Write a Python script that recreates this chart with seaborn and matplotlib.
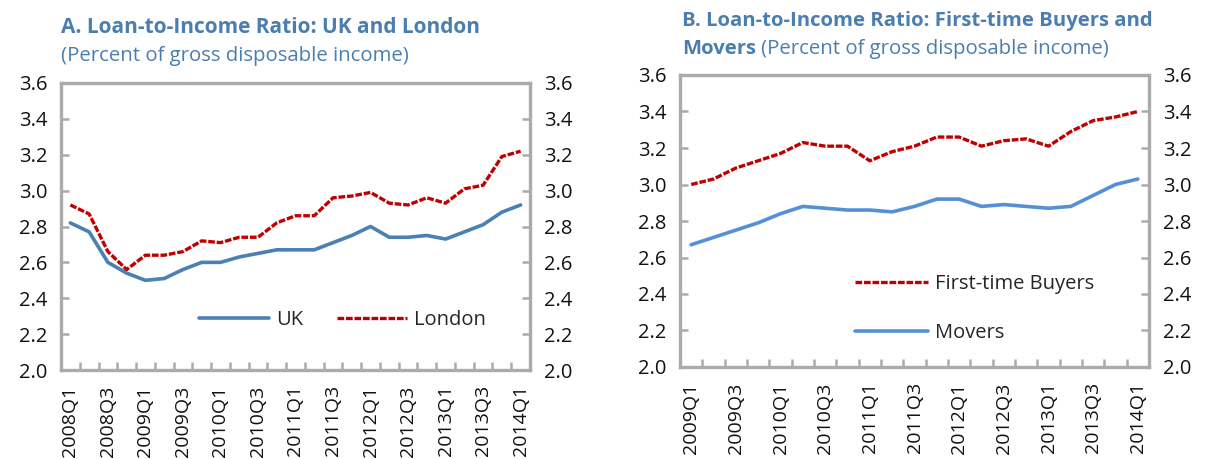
import numpy as np
import pandas as pd
import matplotlib
matplotlib.use("Agg")
import matplotlib.pyplot as plt
from matplotlib.ticker import MultipleLocator, FixedLocator
import seaborn as sns

sns.set_theme(style="white")
plt.rcParams["font.family"] = ["Open Sans", "DejaVu Sans"]

# ---- Panel A: UK and London, 2008Q1-2014Q1 ----
quarters_a = [f"{y}Q{q}" for y in range(2008, 2015) for q in range(1, 5)][:25]
uk = [2.82, 2.77, 2.60, 2.54, 2.50, 2.51, 2.56, 2.60, 2.60, 2.63, 2.65, 2.67, 2.67,
      2.67, 2.71, 2.75, 2.80, 2.74, 2.74, 2.75, 2.73, 2.77, 2.81, 2.88, 2.92]
london = [2.92, 2.87, 2.66, 2.56, 2.64, 2.64, 2.66, 2.72, 2.71, 2.74, 2.74, 2.82, 2.86,
          2.86, 2.96, 2.97, 2.99, 2.93, 2.92, 2.96, 2.93, 3.01, 3.03, 3.19, 3.22]

# ---- Panel B: First-time buyers and movers, 2009Q1-2014Q1 ----
quarters_b = [f"{y}Q{q}" for y in range(2009, 2015) for q in range(1, 5)][:21]
first_time = [3.00, 3.03, 3.09, 3.13, 3.17, 3.23, 3.21, 3.21, 3.13, 3.18, 3.21,
              3.26, 3.26, 3.21, 3.24, 3.25, 3.21, 3.29, 3.35, 3.37, 3.40]
movers = [2.67, 2.71, 2.75, 2.79, 2.84, 2.88, 2.87, 2.86, 2.86, 2.85, 2.88,
          2.92, 2.92, 2.88, 2.89, 2.88, 2.87, 2.88, 2.94, 3.00, 3.03]

TITLE_COLOR = "#4A7EB0"
SPINE_COLOR = "#ABABAB"
RED = "#C00000"
UK_BLUE = "#4A80B3"
MOVERS_BLUE = "#5590D6"
DASH = (0, (2.0, 0.55))

W, H = 1205, 459
fig = plt.figure(figsize=(W / 100, H / 100), dpi=100)


def px_axes(x0, y0, x1, y1):
    return fig.add_axes([x0 / W, 1 - y1 / H, (x1 - x0) / W, (y1 - y0) / H])


def style_axes(ax, labels):
    n = len(labels)
    ax.set_xlim(-0.5, n - 0.5)
    ax.set_ylim(2.0, 3.6)
    ax.yaxis.set_major_locator(MultipleLocator(0.2))
    ax.yaxis.set_major_formatter(matplotlib.ticker.FormatStrFormatter("%.1f"))
    ax.xaxis.set_major_locator(FixedLocator(list(range(0, n, 2))))
    ax.set_xticklabels(labels[::2], rotation=90)
    ax.xaxis.set_minor_locator(FixedLocator([k + 0.5 for k in range(n - 1)]))
    ax.tick_params(axis="x", which="major", length=0, pad=11, labelsize=14,
                   labelcolor="#111111")
    ax.tick_params(axis="x", which="minor", direction="in", length=6, width=1.8,
                   color=SPINE_COLOR, bottom=True)
    ax.tick_params(axis="y", direction="in", length=6, width=1.8, color=SPINE_COLOR,
                   left=True, right=True, labelleft=True, labelright=True,
                   labelsize=14.5, labelcolor="#111111", pad=10)
    for s in ax.spines.values():
        s.set_visible(True)
        s.set_color(SPINE_COLOR)
        s.set_linewidth(2.4)
    ax.set_xlabel("")
    ax.set_ylabel("")
    ax.grid(False)


# Panel A
ax1 = px_axes(61, 83, 530, 370)
df_a = pd.DataFrame({"pos": np.arange(len(quarters_a)), "UK": uk, "London": london})
sns.lineplot(data=df_a, x="pos", y="UK", ax=ax1, color=UK_BLUE, lw=2.6, label="UK")
sns.lineplot(data=df_a, x="pos", y="London", ax=ax1, color=RED, lw=2.4,
             linestyle=DASH, label="London")
style_axes(ax1, quarters_a)
ax1.legend(loc="lower left", bbox_to_anchor=(0.255, 0.075), ncol=2, frameon=False,
           fontsize=14.5, handlelength=3.5, handletextpad=0.35, columnspacing=1.65)

# Panel B
ax2 = px_axes(680, 75, 1149, 367)
df_b = pd.DataFrame({"pos": np.arange(len(quarters_b)), "FTB": first_time, "Movers": movers})
sns.lineplot(data=df_b, x="pos", y="FTB", ax=ax2, color=RED, lw=2.4,
             linestyle=DASH, label="First-time Buyers")
sns.lineplot(data=df_b, x="pos", y="Movers", ax=ax2, color=MOVERS_BLUE, lw=2.6,
             label="Movers")
style_axes(ax2, quarters_b)
ax2.legend(loc="lower left", bbox_to_anchor=(0.335, 0.02), ncol=1, frameon=False,
           fontsize=14.5, handlelength=3.6, handletextpad=0.35, labelspacing=1.45)

# Titles
fig.text(61 / W, 1 - 33 / H, "A. Loan-to-Income Ratio: UK and London",
         fontsize=15, fontweight="bold", color=TITLE_COLOR, va="baseline", ha="left")
fig.text(61 / W, 1 - 61 / H, "(Percent of gross disposable income)",
         fontsize=14.7, color=TITLE_COLOR, va="baseline", ha="left")
fig.text(682 / W, 1 - 26 / H, "B. Loan-to-Income Ratio: First-time Buyers and",
         fontsize=14.6, fontweight="bold", color=TITLE_COLOR, va="baseline", ha="left")
t_bold = fig.text(682 / W, 1 - 54 / H, "Movers", fontsize=14.6, fontweight="bold",
                  color=TITLE_COLOR, va="baseline", ha="left")
fig.canvas.draw()
bb = t_bold.get_window_extent(renderer=fig.canvas.get_renderer())
fig.text(bb.x1 / W + 5 / W, 1 - 54 / H, "(Percent of gross disposable income)",
         fontsize=14.7, color=TITLE_COLOR, va="baseline", ha="left")

fig.savefig("out.png", dpi=100, facecolor="white")
